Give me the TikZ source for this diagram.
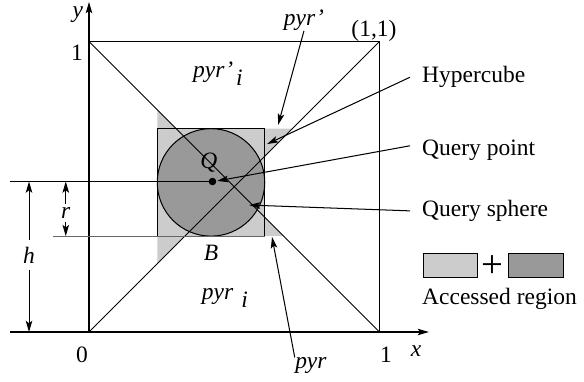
\documentclass[tikz,border=0pt]{standalone}
\usepackage{fontspec}
\setmainfont{Liberation Serif}
\usepackage{amsmath}
\usetikzlibrary{arrows.meta}
\newcommand{\lowsub}[2]{#1\raisebox{-4pt}{\hspace{#2}\textit{i}}}
\begin{document}
\begin{tikzpicture}[x=5cm,y=5cm,line width=0.5pt,
        font=\fontsize{11.5}{13}\selectfont,
        >={Stealth[length=5.5pt,width=3.2pt,inset=1.2pt]},
        lbl/.style={inner sep=1pt},
        callout/.style={anchor=west,inner sep=0pt,outer xsep=6pt},
        keybox/.style={draw=black,line width=0.6pt}]
        \useasboundingbox (-0.3064,-0.1687) rectangle (1.7040,1.1429);
        %访问区域（浅灰）
        \fill[black!20] (0.235,0.765)--(0.235,0.235)--(0.33,0.33)--(0.67,0.33)
                --(0.605,0.395)--(0.605,0.605)--(0.70,0.70)--(0.30,0.70)--cycle;
        %查询球
        \filldraw[fill=black!40,draw=black] (0.42,0.515) circle (0.185);
        %超立方体
        \draw (0.235,0.33) rectangle (0.605,0.70);
        %画x和y轴坐标
        \draw[->] (-0.272,0) -- (1.170,0);
        \draw[->] (0,0) -- (0,1.136);
        \draw (0,1) -- (1,1) -- (1,0);
        %两条对角线
        \draw (0,1) -- (1,0);
        \draw (0,0) -- (1,1);
        %查询点
        \coordinate (Q) at (0.425,0.518);
        \coordinate (qLeft) at (-0.272,0.518);
        \coordinate (bLeft) at (-0.124,0.33);
        \draw (qLeft) -- (Q);
        \draw[black!60] (bLeft) -- (0.605,0.33);
        \fill (Q) circle (0.013);
        %坐标标注
        \node[lbl] (zero) at (-0.024,-0.079) {0};
        \node[lbl] (oneX) at (1.022,-0.079) {1};
        \node[lbl] (oneY) at (-0.041,0.960) {1};
        \node[lbl] (xlab) at (1.126,-0.065) {\textit{x}};
        \node[lbl] (ylab) at (-0.038,1.091) {\textit{y}};
        \node[lbl] (corner) at (0.981,1.036) {(1,1)};
        %金字塔标注
        \node[lbl] (pyrTopI) at (0.444,0.890) {\lowsub{\textit{pyr'}}{1.5pt}};
        \node[lbl] (pyrBotI) at (0.468,0.117) {\lowsub{\textit{pyr}}{4pt}};
        \node[lbl] (labQ) at (0.413,0.582) {\textit{Q}};
        \node[lbl] (labB) at (0.420,0.272) {\textit{B}};
        \node[lbl,inner sep=0pt] (pyrT) at (0.740,1.074) {\textit{pyr'}};
        \node[lbl,inner sep=0pt] (pyrB) at (0.764,-0.117) {\textit{pyr}};
        \coordinate (pyrTTip) at (0.651,0.713);
        \coordinate (pyrBTip) at (0.630,0.327);
        \draw[->] (pyrT.south) -- (pyrTTip);
        \draw[->] (pyrB.north west) -- (pyrBTip);
        %高度h和半径r
        \node[inner sep=3pt] (labH) at (-0.2065,0.265) {\textit{h}};
        \draw[->] (labH) -- (-0.2065,0.518);
        \draw[->] (labH) -- (-0.2065,0);
        \node[inner sep=1.5pt] (labR) at (-0.080,0.41) {\textit{r}};
        \draw[->] (labR.north) -- (-0.080,0.518);
        \draw[->] (labR.south) -- (-0.080,0.33);
        %右侧说明
        \node[callout] (hyper) at (1.105,0.877) {Hypercube};
        \node[callout] (qpoint) at (1.105,0.627) {Query point};
        \node[callout] (qsphere) at (1.105,0.417) {Query sphere};
        \coordinate (hyperTip) at (0.613,0.647);
        \coordinate (qpointTip) at (0.441,0.520);
        \coordinate (qsphereTip) at (0.551,0.437);
        \draw[->] (hyper.west) -- (hyperTip);
        \draw[->] ([yshift=2pt]qpoint.west) -- (qpointTip);
        \draw[->] (qsphere.west) -- (qsphereTip);
        %图例
        \node[keybox,fill=black!20,minimum width=0.93cm,minimum height=0.41cm,anchor=south west]
                (keyLight) at (1.150,0.186) {};
        \node[lbl,font=\fontsize{19}{19}\selectfont] (plus) at (1.390,0.224) {+};
        \node[keybox,fill=black!40,minimum width=0.95cm,minimum height=0.41cm,anchor=south west]
                (keyDark) at (1.442,0.186) {};
        \node[callout] (access) at (1.105,0.114) {Accessed region};
\end{tikzpicture}
\end{document}
